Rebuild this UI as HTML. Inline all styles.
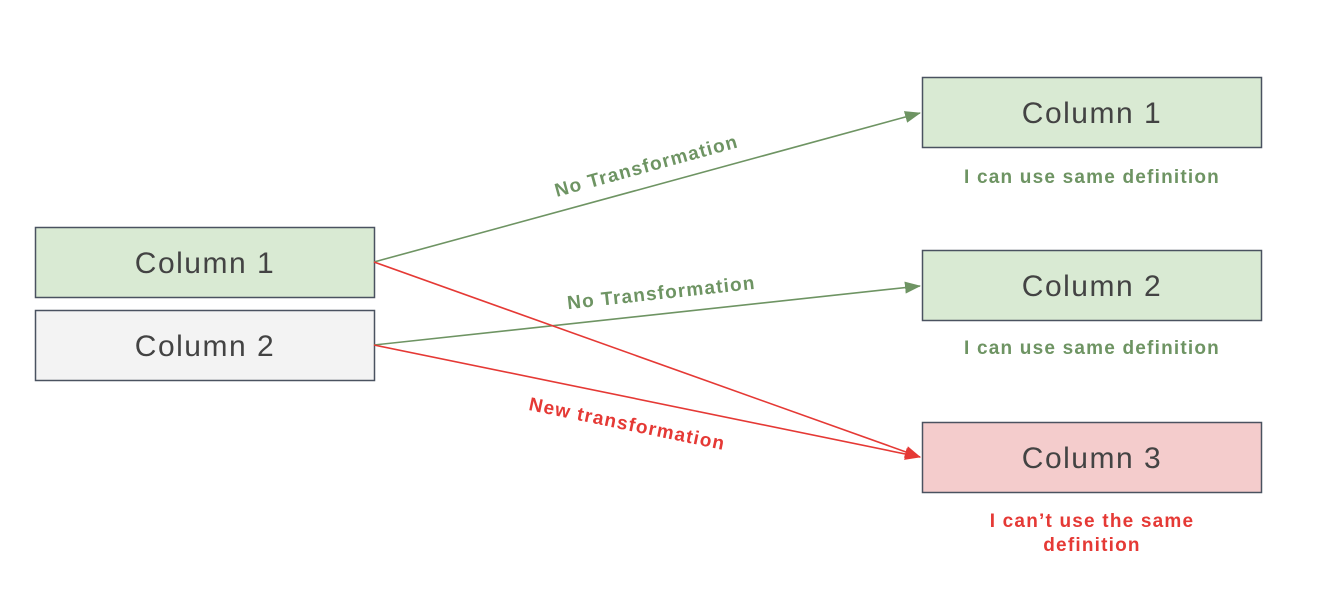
<!DOCTYPE html>
<html><head><meta charset="utf-8"><style>
html,body{margin:0;padding:0;background:#fff;}
body{width:1320px;height:608px;position:relative;overflow:hidden;font-family:"Liberation Sans",sans-serif;}
</style></head><body>
<svg width="1320" height="608" xmlns="http://www.w3.org/2000/svg" style="position:absolute;left:0;top:0">
<defs>
<marker id="ag" markerWidth="16" markerHeight="12" refX="15" refY="6" orient="auto" markerUnits="userSpaceOnUse"><path d="M0,0 L16,6 L0,12 z" fill="#6e9463"/></marker>
<marker id="ar" markerWidth="16" markerHeight="12" refX="15" refY="6" orient="auto" markerUnits="userSpaceOnUse"><path d="M0,0 L16,6 L0,12 z" fill="#e53935"/></marker>
</defs>
<g stroke="#4a5260" stroke-width="1.5">
<rect x="35.5" y="227.5" width="339" height="70" fill="#d9ead3"/>
<rect x="35.5" y="310.5" width="339" height="70" fill="#f3f3f3"/>
<rect x="922.5" y="77.5" width="339" height="70" fill="#d9ead3"/>
<rect x="922.5" y="250.5" width="339" height="70" fill="#d9ead3"/>
<rect x="922.5" y="422.5" width="339" height="70" fill="#f4cccc"/>
</g>
<g font-family="Liberation Sans, sans-serif" font-size="30" fill="#434343" text-anchor="middle" letter-spacing="1.5">
<text x="205" y="273">Column 1</text>
<text x="205" y="356">Column 2</text>
<text x="1092" y="123">Column 1</text>
<text x="1092" y="296">Column 2</text>
<text x="1092" y="468">Column 3</text>
</g>
<line x1="374" y1="262" x2="920" y2="113" stroke="#6e9463" stroke-width="1.6" marker-end="url(#ag)"/>
<line x1="374" y1="345" x2="920" y2="286" stroke="#6e9463" stroke-width="1.6" marker-end="url(#ag)"/>
<line x1="374" y1="262" x2="920" y2="457" stroke="#e53935" stroke-width="1.6" marker-end="url(#ar)"/>
<line x1="374" y1="345" x2="920" y2="457" stroke="#e53935" stroke-width="1.6" marker-end="url(#ar)"/>
<g font-family="Liberation Sans, sans-serif" font-size="19" font-weight="bold" text-anchor="middle" letter-spacing="1.2">
<text transform="translate(648,172) rotate(-15.3)" fill="#6e9463">No Transformation</text>
<text transform="translate(662,299) rotate(-6.2)" fill="#6e9463">No Transformation</text>
<text transform="translate(626,430) rotate(11.6)" fill="#e53935">New transformation</text>
<text x="1092" y="183" fill="#6e9463">I can use same definition</text>
<text x="1092" y="354" fill="#6e9463">I can use same definition</text>
<text x="1092" y="527" fill="#e53935">I can’t use the same</text>
<text x="1092" y="551" fill="#e53935">definition</text>
</g>
</svg>
</body></html>
